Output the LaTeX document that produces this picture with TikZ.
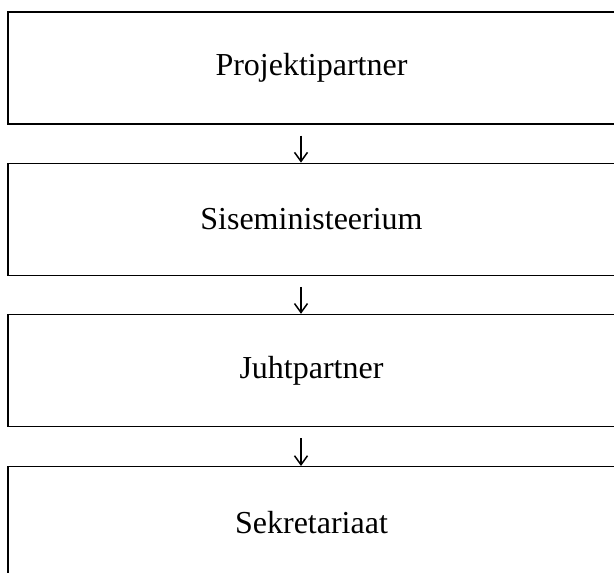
\documentclass[tikz,border=0pt]{standalone}
\usepackage{fontspec}
\setmainfont{Liberation Serif}
\usetikzlibrary{arrows.meta}
\usetikzlibrary{positioning}

\begin{document}
\begin{tikzpicture}[
            x=1pt, y=1pt,
            node distance=38pt,
            level/.style={rectangle, draw=black, line width=1.2pt, minimum height=112pt, minimum width=607pt, inner sep=0pt, align=center, font=\fontsize{32}{36}\selectfont},
            down_arrow/.style={-{Straight Barb[length=9pt, width=13pt]}, line width=1.5pt, black, shorten <=11pt}
        ]
        
        % Frame (boxes run off the right edge)
        \useasboundingbox (0,0) rectangle (614,-573);
        \clip (0,0) rectangle (614,-573);
        
        % Boxes
        \node[level] (projekt_partner) at (311.5,-68) {Projektipartner};
        \node[level, below=of projekt_partner] (siseministeerium) {Siseministeerium};
        \node[level, below=of siseministeerium] (juht_partner) {Juhtpartner};
        \node[level, below=39pt of juht_partner] (sekretariaat) {Sekretariaat};
        
        % Vertical arrows
        \draw[down_arrow] ([xshift=-10.5pt]projekt_partner.south) -- ([xshift=-10.5pt]siseministeerium.north);
        \draw[down_arrow] ([xshift=-10.5pt]siseministeerium.south) -- ([xshift=-10.5pt]juht_partner.north);
        \draw[down_arrow] ([xshift=-10.5pt]juht_partner.south) -- ([xshift=-10.5pt]sekretariaat.north);
        
    \end{tikzpicture}
\end{document}
